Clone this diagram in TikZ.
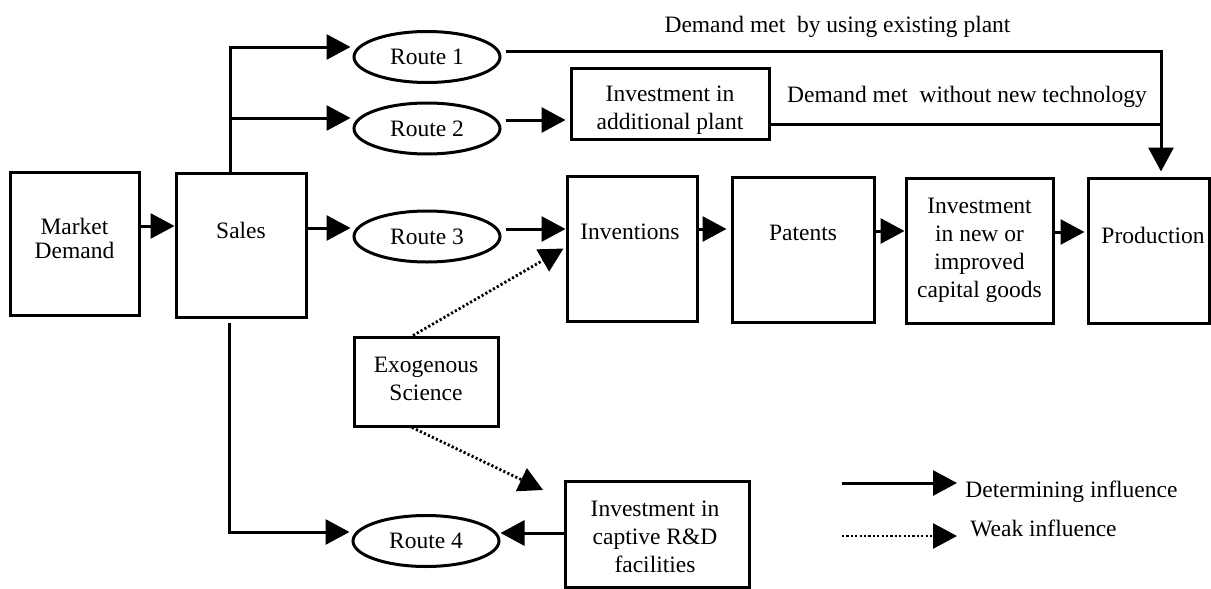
\documentclass[tikz,border=0pt]{standalone}
\usepackage{fontspec}
\setmainfont{Liberation Serif}
\usetikzlibrary{arrows.meta,shapes.geometric,fit}

\begin{document}
\begin{tikzpicture}[x=0.5pt,y=-0.5pt,
  every node/.style={font=\fontsize{11.75}{14}\selectfont},
  box/.style={draw, line width=1.5pt, inner sep=0pt, fit={#1}},
  lbl/.style={align=center, inner sep=0pt},
  route/.style={draw, ellipse, line width=1.5pt, inner sep=0pt,
                minimum width=73pt, minimum height=25.5pt},
  det/.style={line width=1.5pt, -{Triangle[length=12pt,width=12.5pt]}},
  plain/.style={line width=1.5pt},
  weak/.style={line width=1.4pt, dash pattern=on 1.1pt off 1.1pt,
               -{Triangle[length=12pt,width=12.5pt]}},
  tight/.style={font=\fontsize{11.75}{12.4}\selectfont}
]
\fill[white] (0,0) rectangle (1211,589);
\useasboundingbox (0,0) rectangle (1211,589);

% boxes
\node[box={(10,172) (139,315)},
      label={[name=mdT,lbl,tight,yshift=2.5pt]center:{Market\\Demand}}] (md) {};
\node[box={(176,173) (306,317)},
      label={[name=salesT,lbl,yshift=7.5pt]center:Sales}] (sales) {};
\node[box={(571,68) (769,139)},
      label={[name=plantT,lbl,yshift=-3.25pt]center:{Investment in\\additional plant}}] (plant) {};
\node[box={(567,176) (697,321)},
      label={[name=invT,lbl,yshift=8.25pt,xshift=-1pt]center:Inventions}] (inv) {};
\node[box={(732,177) (874,322)},
      label={[name=patT,lbl,yshift=8.25pt]center:Patents}] (pat) {};
\node[box={(906,178) (1053,323)},
      label={[name=investT,lbl]center:{Investment\\in new or\\improved\\capital goods}}] (invest) {};
\node[box={(1088,178) (1209,323)},
      label={[name=prodT,lbl,yshift=7.75pt,xshift=2.25pt]center:Production}] (prod) {};
\node[box={(354,337) (498,426)},
      label={[name=exoT,lbl,yshift=1.25pt]center:{Exogenous\\Science}}] (exo) {};
\node[box={(565,481) (749,587)},
      label={[name=capT,lbl,yshift=-1.25pt,xshift=-1pt]center:{Investment in\\captive R\&D\\facilities}}] (cap) {};

% routes
\node[route] (r1) at (427,57) {Route 1};
\node[route] (r2) at (427,128.5) {Route 2};
\node[route] (r3) at (427,236.5) {Route 3};
\node[route] (r4) at (426,541) {Route 4};

% free texts
\node[inner sep=0pt] (t1) at (837.5,27) {Demand met~ by using existing plant};
\node[inner sep=0pt] (t2) at (967,97) {Demand met~ without new technology};

% guide coordinates
\coordinate (trunkT) at (230,0);
\coordinate (trunkB) at (229,0);
\coordinate (drop) at (1161,0);
\coordinate (yA) at (0,47);
\coordinate (yB) at (0,118);
\coordinate (yB2) at (0,120);
\coordinate (yR1) at (0,51);
\coordinate (yP) at (0,124);
\coordinate (yC0) at (0,226);
\coordinate (yC1) at (0,228);
\coordinate (yC2) at (0,229);
\coordinate (yC3) at (0,231);
\coordinate (yC4) at (0,232);
\coordinate (yD) at (0,532);
\coordinate (yD2) at (0,533);
\coordinate (rdtip) at (543,490);

% determining influences
\draw[det] (md.east |- yC0) -- (sales.west |- yC0);
\draw[det] (sales.north -| trunkT) |- ([xshift=-1pt]r1.west |- yA);
\draw[det] (trunkT |- yB) -- ([xshift=-1pt]r2.west |- yB);
\draw[det] (sales.east |- yC1) -- ([xshift=-1pt]r3.west |- yC1);
\draw[det] ([yshift=-2pt]sales.south -| trunkB) |- ([xshift=-1pt]r4.west |- yD);

\draw[det] ([xshift=2pt]r1.east |- yR1) -| ([yshift=2.5pt]prod.north -| drop);
\draw[det] ([xshift=2pt]r2.east |- yB2) -- ([xshift=-2pt]plant.west |- yB2);
\draw[plain] (plant.east |- yP) -- (drop |- yP);

\draw[det] ([xshift=2pt]r3.east |- yC2) -- (inv.west |- yC2);
\draw[det] (inv.east |- yC2) -- ([xshift=-2pt]pat.west |- yC2);
\draw[det] (pat.east |- yC3) -- (invest.west |- yC3);
\draw[det] (invest.east |- yC4) -- ([xshift=-1pt]prod.west |- yC4);

\draw[det] (cap.west |- yD2) -- (r4.east |- yD2);

% weak influences
\draw[weak] ([xshift=-6.5pt]exo.north) -- ([xshift=-1pt]inv.west);
\draw[weak] ([xshift=-7pt]exo.south) -- (rdtip);

% legend
\coordinate (L1a) at (842,483);
\coordinate (L1b) at (957,483);
\coordinate (L2a) at (842,536);
\coordinate (L2b) at (957,536);
\draw[det] (L1a) -- (L1b);
\draw[weak] (L2a) -- (L2b);
\node[anchor=west,inner sep=0pt] (legdet) at (965,492) {Determining influence};
\node[anchor=west,inner sep=0pt] (legweak) at (970,528) {Weak influence};
\end{tikzpicture}
\end{document}
